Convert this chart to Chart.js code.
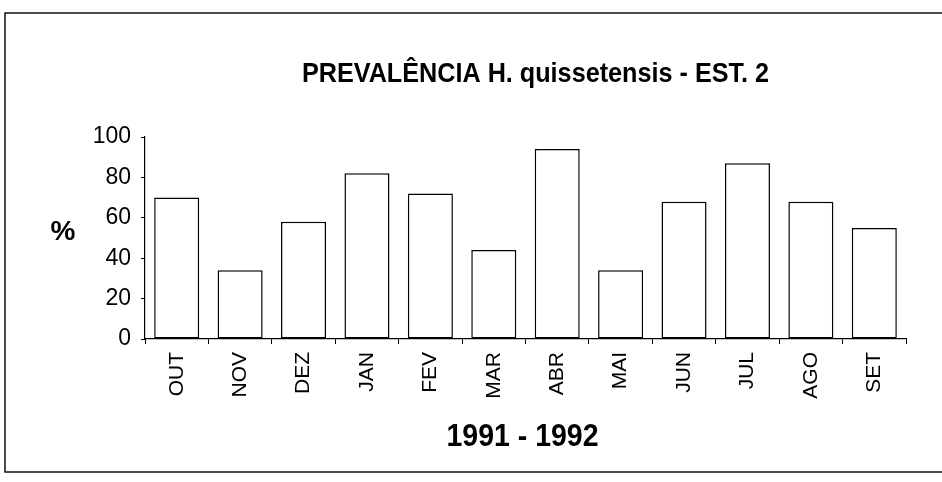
<!DOCTYPE html>
<html>
<head>
<meta charset="utf-8">
<script src="https://cdn.jsdelivr.net/npm/chart.js@4/dist/chart.umd.min.js"></script>
<style>
  html, body { margin: 0; padding: 0; background: #fff; }
  #wrap { position: relative; width: 942px; height: 482px; }
</style>
</head>
<body>
<div id="wrap"><canvas id="c" width="942" height="482"></canvas></div>
<script>
// Monthly prevalence (%) of H. quissetensis at station 2, Oct 1991 – Sep 1992
const months = ['OUT', 'NOV', 'DEZ', 'JAN', 'FEV', 'MAR', 'ABR', 'MAI', 'JUN', 'JUL', 'AGO', 'SET'];
const prevalence = [70, 34, 58, 82, 72, 44, 94, 34, 68, 87, 68, 55];
const yTicks = [0, 20, 40, 60, 80, 100];

const chartTitle = 'PREVALÊNCIA H. quissetensis - EST. 2';
const xTitle = '1991 - 1992';
const yTitle = '%';

const plain = '"Liberation Sans", Arial, Helvetica, sans-serif';

// Draws condensed bold text (narrow-face look) centred on (x, y)
function condensedText(ctx, text, x, y, size, squeeze) {
  ctx.save();
  ctx.translate(x, y);
  ctx.scale(squeeze, 1);
  ctx.font = 'bold ' + size + 'px ' + plain;
  ctx.textAlign = 'center';
  ctx.textBaseline = 'middle';
  ctx.fillText(text, 0, 0);
  ctx.restore();
}

// Frame around the figure, the heading, the horizontal "%" label and the period caption
const decorations = {
  id: 'decorations',
  beforeDraw(chart) {
    const ctx = chart.ctx;
    ctx.save();
    ctx.fillStyle = '#fff';
    ctx.fillRect(0, 0, chart.width, chart.height);
    ctx.strokeStyle = '#111';
    ctx.lineWidth = 1.5;
    ctx.beginPath();
    ctx.moveTo(chart.width + 5, 13);
    ctx.lineTo(5, 13);
    ctx.lineTo(5, 472);
    ctx.lineTo(chart.width + 5, 472);
    ctx.stroke();
    ctx.restore();
  },
  afterDraw(chart) {
    const ctx = chart.ctx;
    const area = chart.chartArea;
    ctx.save();
    ctx.fillStyle = '#000';
    condensedText(ctx, chartTitle, (area.left + area.right) / 2 + 10, 74, 28, 0.9);
    condensedText(ctx, xTitle, (area.left + area.right) / 2 - 3, 437, 32, 0.89);
    ctx.font = 'bold 28px ' + plain;
    ctx.textAlign = 'center';
    ctx.textBaseline = 'middle';
    ctx.fillText(yTitle, 63, 232);
    ctx.restore();
  }
};

new Chart(document.getElementById('c'), {
  type: 'bar',
  data: {
    labels: months,
    datasets: [{
      data: prevalence,
      backgroundColor: '#ffffff',
      borderColor: '#000000',
      borderWidth: 1.5,
      borderSkipped: false,
      barPercentage: 0.71,
      categoryPercentage: 1.0
    }]
  },
  options: {
    responsive: false,
    animation: false,
    devicePixelRatio: 1,
    layout: { padding: { top: 137, right: 36, bottom: 0, left: 0 } },
    plugins: {
      legend: { display: false },
      title: { display: false },
      tooltip: { enabled: false }
    },
    scales: {
      x: {
        afterFit(scale) { scale.height = 143; },
        grid: {
          offset: true,
          drawOnChartArea: false,
          drawTicks: true,
          tickLength: 5,
          color: '#000'
        },
        border: { display: true, color: '#000', width: 1.2 },
        ticks: {
          autoSkip: false,
          minRotation: 90,
          maxRotation: 90,
          padding: 8,
          color: '#000',
          font: { family: plain, size: 21 }
        }
      },
      y: {
        min: 0,
        max: 100,
        afterFit(scale) { scale.width = 145; },
        afterBuildTicks(scale) { scale.ticks = yTicks.map(v => ({ value: v })); },
        grid: {
          drawOnChartArea: false,
          drawTicks: true,
          tickLength: 4,
          color: '#000'
        },
        border: { display: true, color: '#000', width: 1.2 },
        ticks: {
          padding: 10,
          color: '#000',
          font: { family: plain, size: 23 }
        }
      }
    }
  },
  plugins: [decorations]
});
</script>
</body>
</html>
